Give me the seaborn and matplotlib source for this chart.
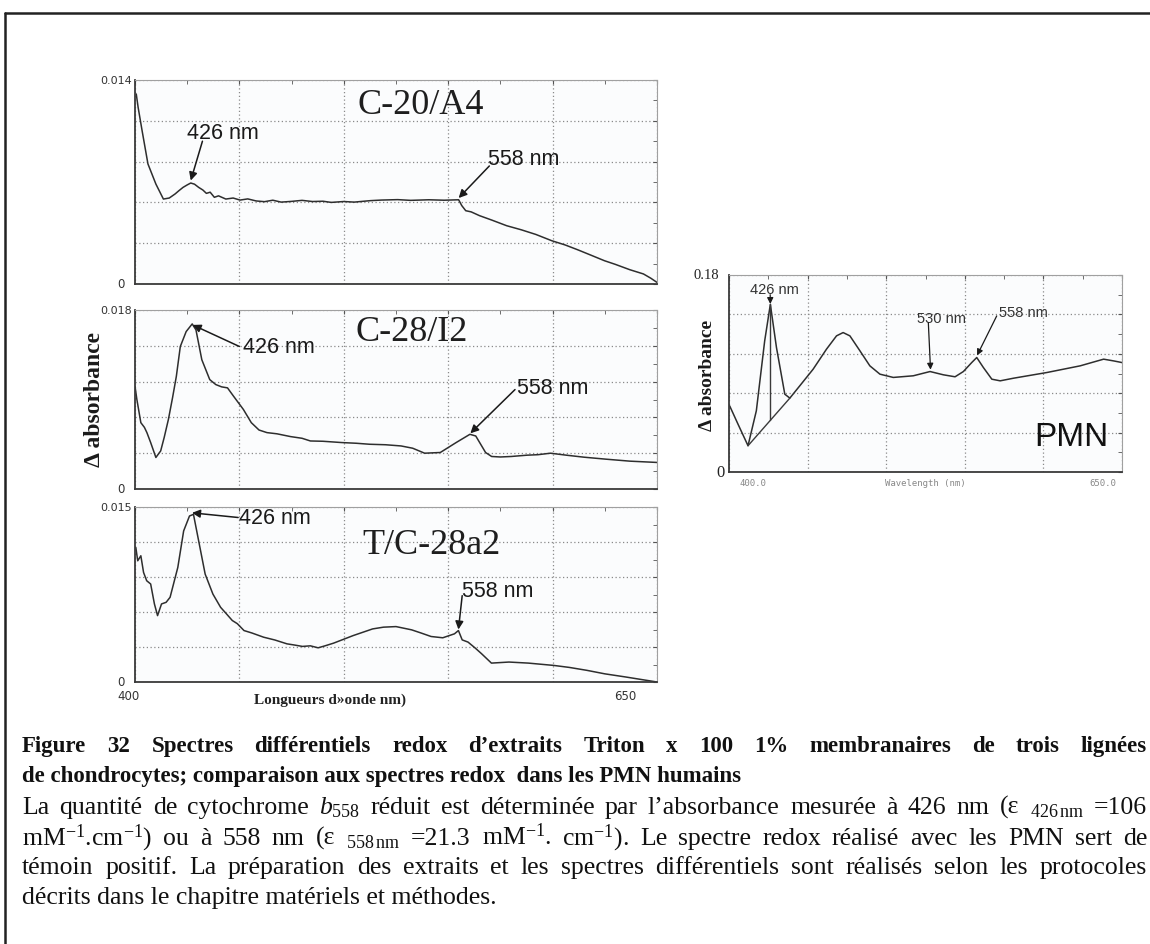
import numpy as np
import pandas as pd
import matplotlib
matplotlib.use("Agg")
import matplotlib.pyplot as plt
import seaborn as sns
from matplotlib.lines import Line2D

sns.set_style("white")
plt.rcParams["font.family"] = ["Liberation Serif", "DejaVu Serif"]
plt.rcParams["mathtext.fontset"] = "custom"
plt.rcParams["mathtext.rm"] = "Liberation Serif"
plt.rcParams["mathtext.it"] = "Liberation Serif:italic"
plt.rcParams["mathtext.bf"] = "Liberation Serif:bold"
plt.rcParams["mathtext.default"] = "regular"

c20_nm = [400.6, 401.5, 403.4, 406.2, 410, 413.6, 416.4, 419.2, 421, 423, 425, 426.7, 428.5, 430.5,
          432.5, 434.2, 436, 438, 440, 443.5, 447, 450.3, 454, 458, 462, 466, 470, 475, 480, 485,
          490, 494, 500, 505, 512.7, 518, 525.8, 532, 540.7, 548, 555, 556.5, 558.4, 561, 565, 571,
          578, 585, 592, 599.6, 606, 612, 618, 624.8, 630, 637, 643.5, 647, 650]
c20_abs = [0.01304, 0.01212, 0.01052, 0.00824, 0.00686, 0.00583, 0.0059, 0.00618, 0.0064, 0.00663,
           0.0068, 0.00693, 0.00685, 0.00663, 0.00645, 0.00622, 0.0063, 0.00595, 0.00605, 0.00583,
           0.0059, 0.00576, 0.00584, 0.0057, 0.00565, 0.00575, 0.00562, 0.00567, 0.00574, 0.00566,
           0.00568, 0.0056, 0.00566, 0.00562, 0.00572, 0.00576, 0.00579, 0.00574, 0.00578, 0.00575,
           0.00578, 0.00538, 0.00503, 0.00495, 0.00469, 0.00438, 0.0040, 0.00372, 0.0034, 0.00297,
           0.00268, 0.00235, 0.0020, 0.0016, 0.00135, 0.00098, 0.00069, 0.0004, 0.00011]

c28_nm = [400, 400.9, 402.8, 404.5, 405.7, 407.5, 410, 412.3, 414, 416, 418, 419.8, 421.7, 424.5,
          427.4, 429.2, 432, 435.8, 438.7, 441.5, 444.3, 447.2, 451.9, 455.7, 459.4, 463.2, 468,
          474.5, 480, 484, 490, 499, 506, 512.3, 520, 527.4, 533, 538.7, 546.2, 553.8, 560.4,
          563.2, 567.9, 570.8, 575, 580.2, 587.7, 593, 599, 606.6, 615, 625.5, 637, 650]
c28_abs = [0.01033, 0.009, 0.00667, 0.0062, 0.00567, 0.00467, 0.00317, 0.00383, 0.0052, 0.007,
           0.0092, 0.01133, 0.01433, 0.01583, 0.0166, 0.016, 0.013, 0.011, 0.0105, 0.01027, 0.01017,
           0.00933, 0.008, 0.00667, 0.00593, 0.00567, 0.00555, 0.00527, 0.0051, 0.00483, 0.0048,
           0.00467, 0.0046, 0.0045, 0.00445, 0.00433, 0.0041, 0.0036, 0.00367, 0.00467, 0.0055,
           0.00533, 0.00367, 0.00327, 0.00322, 0.00327, 0.0034, 0.00345, 0.0036, 0.0034, 0.0032,
           0.003, 0.0028, 0.00267]

tc28_nm = [400.4, 401.3, 402.8, 404.1, 405.6, 407.5, 409.3, 410.8, 412.7, 414.9, 416.8, 420.5, 423.3,
           426.1, 428, 430.8, 433.6, 437.3, 441, 443.5, 446.6, 449, 452.2, 456, 461.6, 467, 472.8,
           476, 480.2, 484, 487.7, 491, 495.1, 504.5, 513.8, 519, 525, 532.5, 537, 541.8, 547.4,
           553, 554.9, 556.7, 559.5, 563, 566, 570.7, 579.1, 588.4, 600.6, 608, 616.4, 625, 635,
           643, 650]
tc28_abs = [0.01153, 0.01039, 0.01082, 0.00939, 0.00868, 0.0084, 0.00669, 0.00569, 0.00669, 0.00683,
            0.00726, 0.00982, 0.01295, 0.01423, 0.01437, 0.01181, 0.00925, 0.00754, 0.0064, 0.0059,
            0.00527, 0.0050, 0.00441, 0.0042, 0.00384, 0.0036, 0.00327, 0.00318, 0.00305, 0.0031,
            0.00293, 0.0031, 0.00333, 0.00398, 0.00455, 0.0047, 0.00475, 0.00447, 0.0042, 0.0039,
            0.00379, 0.00413, 0.00441, 0.00361, 0.00342, 0.0029, 0.00242, 0.00162, 0.00171, 0.00162,
            0.00142, 0.00125, 0.001, 0.0007, 0.00043, 0.0002, 0.0]

pmn_nm = [400.4, 405.7, 412.1, 417.4, 422.7, 426.3, 430.2, 435.5, 438.7, 445.0, 453.5, 462.0, 468.4,
          472.6, 476.9, 483.3, 489.6, 496.0, 504.5, 517.2, 527.9, 536.4, 543.8, 549.1, 554.4, 557.6,
          561.8, 567.2, 572.5, 581.0, 602.2, 623.4, 638.3, 644.7, 650]
pmn_abs = [0.0605, 0.0438, 0.024, 0.056, 0.1198, 0.1532, 0.1137, 0.0711, 0.0675, 0.0787, 0.0939,
           0.1122, 0.1244, 0.1274, 0.1244, 0.1107, 0.097, 0.0894, 0.0864, 0.0879, 0.0918, 0.0888,
           0.087, 0.0918, 0.1, 0.1046, 0.0955, 0.0848, 0.0833, 0.0857, 0.0909, 0.097, 0.1031,
           0.1015, 0.1]
# baseline drawn under the 426 nm Soret peak of the PMN spectrum
pmn_base_nm = [412.1, 438.7]
pmn_base_abs = [0.024, 0.0675]
pmn_drop_nm = [426.3, 426.3]
pmn_drop_abs = [0.0472, 0.1532]

W, H = 1150, 945
fig = plt.figure(figsize=(W / 100, H / 100), dpi=100)


def px_box(x0, y0, x1, y1):
    return [x0 / W, 1 - y1 / H, (x1 - x0) / W, (y1 - y0) / H]


def draw_spectrum(ax, nm, absb, ymax):
    df = pd.DataFrame({"nm": nm, "abs": absb})
    sns.lineplot(data=df, x="nm", y="abs", ax=ax, color="#2e2e2e", lw=1.1,
                 estimator=None, sort=False)
    ax.set_xlim(400, 650)
    ax.set_ylim(0, ymax)
    ax.set_xticks(np.linspace(400, 650, 6))
    ax.set_xticks(np.linspace(400, 650, 11), minor=True)
    ax.set_yticks(np.linspace(0, ymax, 6))
    ax.set_yticks(np.linspace(0, ymax, 11), minor=True)
    ax.grid(True, which="major", ls=(0, (1, 2)), color="#8a8a8a", lw=0.9)
    ax.tick_params(which="both", direction="in", length=3, top=True, right=True,
                   labelleft=False, labelbottom=False, color="#555")
    ax.set_xlabel("")
    ax.set_ylabel("")
    ax.set_facecolor("#fbfcfd")
    for side in ["top", "right"]:
        ax.spines[side].set_color("#a0a0a0")
        ax.spines[side].set_linewidth(0.8)
    for side in ["left", "bottom"]:
        ax.spines[side].set_color("#3a3a3a")
        ax.spines[side].set_linewidth(1.3)


def arrow(ax, tail, head, lw=1.1, ms=12):
    ax.annotate("", xy=head, xytext=tail,
                arrowprops=dict(arrowstyle="-|>", color="#1a1a1a", lw=lw,
                                mutation_scale=ms, shrinkA=0, shrinkB=0))


ax_top = fig.add_axes(px_box(135, 81, 657, 285))
ax_mid = fig.add_axes(px_box(135, 311, 657, 490))
ax_bot = fig.add_axes(px_box(135, 508, 657, 683))
ax_pmn = fig.add_axes(px_box(729, 276, 1122, 473))

left_panels = [
    (ax_top, c20_nm, c20_abs, 0.014, "0.014", "C-20/A4", (537, 0.01235),
     (442, 0.0104), (432.3, 0.0098), (426.7, 0.0071),
     (586, 0.0086), (569.7, 0.0081), (555, 0.0059)),
    (ax_mid, c28_nm, c28_abs, 0.018, "0.018", "C-28/I2", (532.4, 0.0158),
     (469, 0.01433), (450, 0.01433), (427.6, 0.0165),
     (600, 0.0102), (582, 0.0100), (560.6, 0.0056)),
    (ax_bot, tc28_nm, tc28_abs, 0.015, "0.015", "T/C-28a2", (541.8, 0.0118),
     (467, 0.0141), (449.4, 0.0141), (427.3, 0.0145),
     (573.5, 0.0078), (556.7, 0.0074), (554.9, 0.0045)),
]

for (ax, nm, ab, ymax, top_lbl, name, name_xy, t426, a426, h426,
     t558, a558, h558) in left_panels:
    draw_spectrum(ax, nm, ab, ymax)
    ax.text(-0.006, 1.0, top_lbl, transform=ax.transAxes, ha="right", va="center",
            fontsize=8, family="DejaVu Sans", color="#333")
    ax.text(-0.02, 0.0, "0", transform=ax.transAxes, ha="right", va="center",
            fontsize=8.5, family="DejaVu Sans", color="#333")
    ax.text(*name_xy, name, ha="center", va="center", fontsize=26,
            family="Liberation Serif", color="#1e1e1e")
    ax.text(*t426, "426 nm", ha="center", va="center", fontsize=15.5,
            family="Liberation Sans", color="#1a1a1a")
    ax.text(*t558, "558 nm", ha="center", va="center", fontsize=15.5,
            family="Liberation Sans", color="#1a1a1a")
    arrow(ax, a426, h426)
    arrow(ax, a558, h558)

fig.text(95 / W, 1 - 400 / H, "Δ absorbance", rotation=90, ha="center", va="center",
         fontsize=17, weight="bold", family="Liberation Serif", color="#1a1a1a")
fig.text(128 / W, 1 - 697 / H, "400", ha="center", va="center", fontsize=8.5,
         family="DejaVu Sans", color="#333")
fig.text(625 / W, 1 - 697 / H, "650", ha="center", va="center", fontsize=8.5,
         family="DejaVu Sans", color="#333")
fig.text(330 / W, 1 - 700 / H, "Longueurs d»onde nm)", ha="center", va="center",
         fontsize=11, weight="bold", family="Liberation Serif", color="#222")

# PMN control spectrum
draw_spectrum(ax_pmn, pmn_nm, pmn_abs, 0.18)
ax_pmn.plot(pmn_base_nm, pmn_base_abs, color="#3a3a3a", lw=1.0)
ax_pmn.plot(pmn_drop_nm, pmn_drop_abs, color="#3a3a3a", lw=1.0)
ax_pmn.text(-0.025, 1.0, "0.18", transform=ax_pmn.transAxes, ha="right", va="center",
            fontsize=10.5, family="Liberation Serif", color="#222")
ax_pmn.text(-0.012, 0.0, "0", transform=ax_pmn.transAxes, ha="right", va="center",
            fontsize=12, family="Liberation Serif", color="#222")
for x_lbl, lbl in [(0.06, "400.0"), (0.5, "Wavelength (nm)"), (0.95, "650.0")]:
    ax_pmn.text(x_lbl, -0.03, lbl, transform=ax_pmn.transAxes, ha="center", va="top",
                fontsize=6.5, family="DejaVu Sans Mono", color="#888")
for lbl, xy in [("426 nm", (429, 0.167)), ("530 nm", (535, 0.141)), ("558 nm", (587, 0.1466))]:
    ax_pmn.text(*xy, lbl, ha="center", va="center", fontsize=10.5,
                family="Liberation Sans", color="#333")
arrow(ax_pmn, (426.2, 0.162), (426.3, 0.1535), lw=0.9, ms=9)
arrow(ax_pmn, (526.8, 0.1365), (528.2, 0.0935), lw=0.9, ms=9)
arrow(ax_pmn, (570.3, 0.1426), (557.8, 0.1065), lw=0.9, ms=9)
ax_pmn.text(618, 0.032, "PMN", ha="center", va="center", fontsize=24,
            family="Liberation Sans", color="#111")
fig.text(708 / W, 1 - 375 / H, "Δ absorbance", rotation=90, ha="center", va="center",
         fontsize=14, weight="bold", family="Liberation Serif", color="#1a1a1a")

# frame around the figure block
fig.add_artist(Line2D([5 / W, 1], [1 - 14 / H] * 2, transform=fig.transFigure,
                      color="#222", lw=1.8))
fig.add_artist(Line2D([5 / W] * 2, [1 - 14 / H, 0], transform=fig.transFigure,
                      color="#222", lw=1.8))

# caption, justified like the original document
renderer = fig.canvas.get_renderer()
X0, X1 = 22, 1147
BOLD_FS = 16.5

cap_bold_1 = "Figure 32 Spectres différentiels redox d’extraits Triton x 100 1% membranaires de trois lignées"
cap_bold_2 = "de chondrocytes; comparaison aux spectres redox  dans les PMN humains"
cap_body = [
    r"La quantité de cytochrome $\mathit{b}_{558}$ réduit est déterminée par l’absorbance mesurée "
    r"à 426 nm (ε ${}_{426\,nm}$ =106",
    r"mM$^{-1}$.cm$^{-1}$) ou à 558 nm (ε ${}_{558\,nm}$ =21.3 mM$^{-1}$. cm$^{-1}$). "
    r"Le spectre redox réalisé avec les PMN sert de",
    "témoin positif. La préparation des extraits et les spectres différentiels sont réalisés "
    "selon les protocoles",
]
cap_last = "décrits dans le chapitre matériels et méthodes."


def natural_width(text, size, weight="normal"):
    t = fig.text(0, 0, text, fontsize=size, weight=weight, family="Liberation Serif")
    w = t.get_window_extent(renderer).width
    t.remove()
    return w


# body size: the widest body line fills the measure with ordinary spaces
BODY_FS = min(18.5, 10 * (X1 - X0 - 8) / max(natural_width(s, 10) for s in cap_body))


def caption_line(text, y, size, weight="normal", justify=True):
    if not justify:
        fig.text(X0 / W, 1 - y / H, text, fontsize=size, weight=weight,
                 family="Liberation Serif", va="baseline", ha="left", color="#111")
        return
    words = text.split()
    objs = [fig.text(0, 1 - y / H, w, fontsize=size, weight=weight,
                     family="Liberation Serif", va="baseline", ha="left", color="#111")
            for w in words]
    widths = [o.get_window_extent(renderer).width for o in objs]
    gap = (X1 - X0 - sum(widths)) / (len(words) - 1)
    x = X0
    for o, w in zip(objs, widths):
        o.set_x(x / W)
        x += w + gap


caption_line(cap_bold_1, 752, BOLD_FS, weight="bold")
caption_line(cap_bold_2, 782, BOLD_FS, weight="bold", justify=False)
for s, y in zip(cap_body, [814, 845, 874]):
    caption_line(s, y, BODY_FS)
caption_line(cap_last, 904, BODY_FS, justify=False)

fig.savefig("out.png", dpi=100, facecolor="white")
